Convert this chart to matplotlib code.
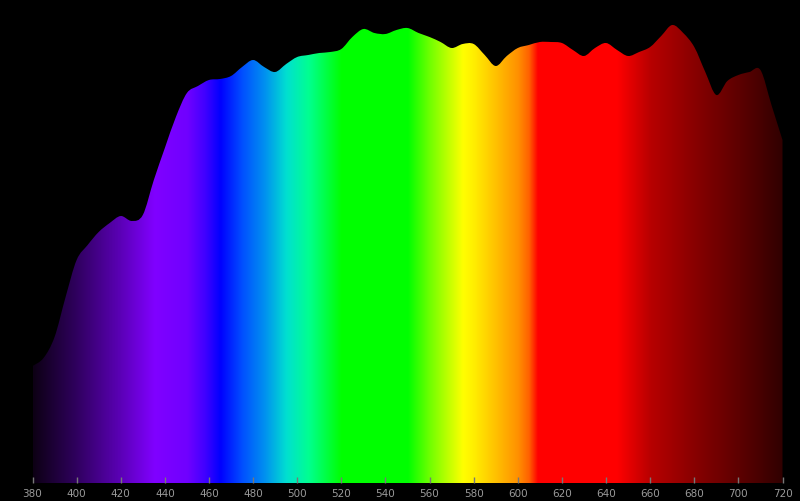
import matplotlib

matplotlib.use("Agg")
import matplotlib.pyplot as plt
import numpy as np
from matplotlib.colors import LinearSegmentedColormap
from matplotlib.path import Path

# measured intensity (arbitrary units), every 5 nm
wavelength = list(range(380, 721, 5))
intensity = [
    117, 125, 146, 186, 223, 238, 251, 260, 267, 262,
    268, 303, 335, 366, 390, 397, 403, 404, 407, 416,
    423, 416, 411, 419, 426, 428, 430, 431, 434, 446,
    454, 450, 449, 453, 455, 450, 446, 441, 435, 439,
    439, 428, 417, 427, 435, 438, 441, 441, 440, 433,
    427, 435, 440, 433, 427, 431, 436, 447, 458, 450,
    436, 411, 388, 402, 408, 411, 413, 378, 343,
]

# colour of light along the spectrum
stop_nm = [380, 400, 420, 435, 450, 458, 465, 475, 485, 495, 505, 515, 520,
           550, 560, 570, 575, 580, 590, 600, 605, 609, 645, 660, 680, 700, 720]
stop_color = ["#0d0014", "#300060", "#5c00b8", "#8000ff", "#7000ff", "#4000ff",
              "#0000ff", "#0050ff", "#0090f0", "#00e0d0", "#00ff90", "#00ff30",
              "#00ff00", "#00ff00", "#70ff00", "#d0ff00", "#ffff00", "#ffee00",
              "#ffc000", "#ff9000", "#ff6000", "#ff0000", "#ff0000", "#b80000",
              "#880000", "#5e0000", "#300000"]

lo, hi = stop_nm[0], stop_nm[-1]
cmap = LinearSegmentedColormap.from_list(
    "spectrum", [((n - lo) / (hi - lo), c) for n, c in zip(stop_nm, stop_color)], N=1024
)


def smooth_area(xs, ys):
    """Closed area path under a Catmull-Rom curve drawn with cubic Beziers."""
    pts = np.column_stack([xs, ys]).astype(float)
    ext = np.vstack([pts[0], pts, pts[-1]])
    verts = [(xs[0], 0.0), tuple(pts[0])]
    codes = [Path.MOVETO, Path.LINETO]
    for i in range(len(pts) - 1):
        p0, p1, p2, p3 = ext[i], ext[i + 1], ext[i + 2], ext[i + 3]
        c1 = p1 + (p2 - p0) / 6.0
        c2 = p2 - (p3 - p1) / 6.0
        verts += [tuple(c1), tuple(c2), tuple(p2)]
        codes += [Path.CURVE4] * 3
    verts += [(xs[-1], 0.0), (xs[0], 0.0)]
    codes += [Path.LINETO, Path.CLOSEPOLY]
    return Path(verts, codes)


fig = plt.figure(figsize=(8, 5.01), dpi=100, facecolor="black")
ax = fig.add_axes([32.5 / 800, 18 / 501, 750 / 800, 483 / 501])
ax.set_facecolor("black")

grad = np.linspace(0, 1, 1024).reshape(1, -1)
img = ax.imshow(grad, cmap=cmap, aspect="auto", extent=(lo, hi, 0, 483),
                origin="lower", interpolation="bilinear")
img.set_clip_path(smooth_area(wavelength, intensity), transform=ax.transData)

ax.set_xlim(380, 720)
ax.set_ylim(0, 483)
ax.set_xticks(range(380, 721, 20))
ax.set_yticks([])
for s in ax.spines.values():
    s.set_visible(False)
ax.tick_params(axis="x", direction="in", length=4, width=1, color="#777777",
               labelcolor="#9a9a9a", labelsize=7.5, pad=4)

fig.savefig("out.png", dpi=100, facecolor="black")
plt.close(fig)
